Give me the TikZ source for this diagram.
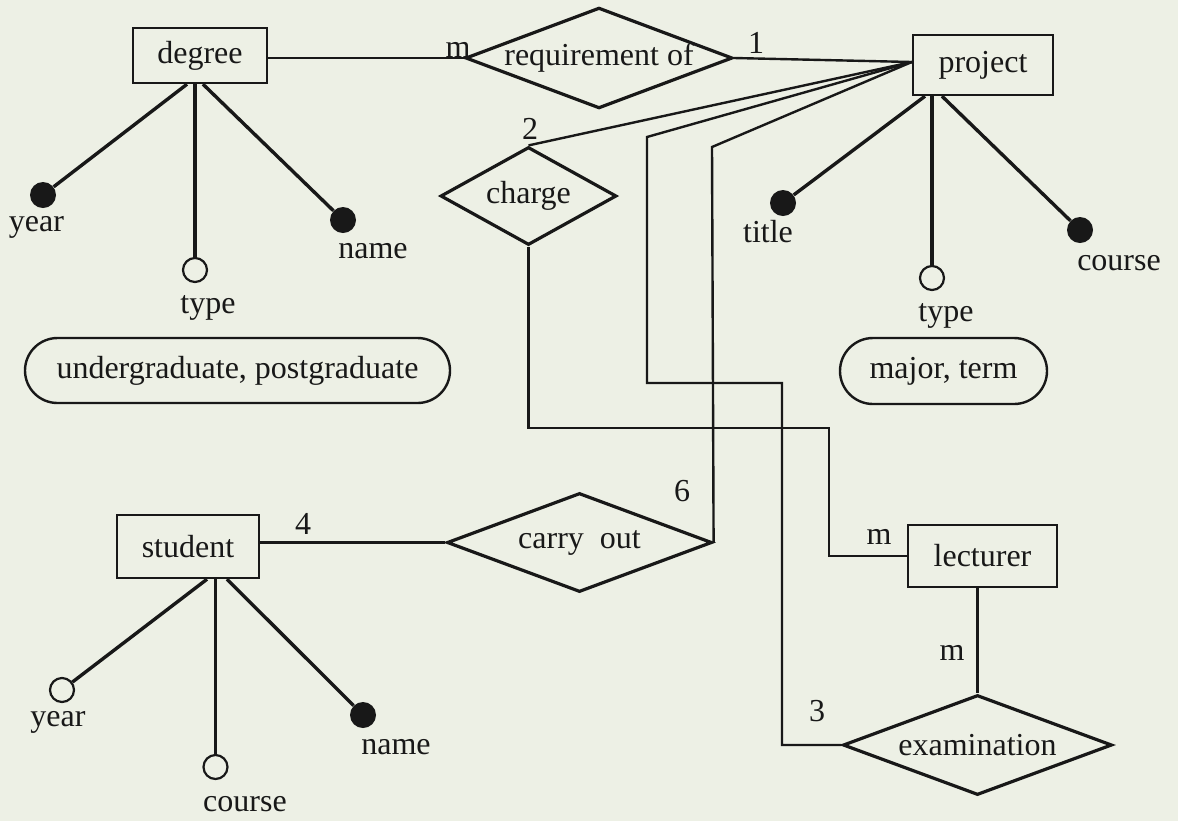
\documentclass[tikz,border=0pt]{standalone}
\usepackage{fontspec}
\setmainfont{Liberation Serif}
\usetikzlibrary{shapes.geometric,shapes.misc}
\definecolor{paper}{RGB}{237,240,229}
\definecolor{ink}{RGB}{24,24,24}

\begin{document}
\begin{tikzpicture}[x=0.5pt,y=-0.5pt,color=ink,
	every node/.style={font=\fontsize{16}{19}\selectfont},
	entity/.style={draw,line width=1.2pt,inner sep=0pt},
	relship/.style={diamond,draw,line width=1.6pt,inner sep=0pt,aspect=2.65},
	keyattr/.style={circle,fill,inner sep=0pt,minimum size=13pt},
	optattr/.style={circle,draw,line width=1.1pt,inner sep=0pt,minimum size=12pt},
	valuebox/.style={rounded rectangle,draw,line width=1.2pt,inner sep=0pt},
	attrline/.style={line width=1.7pt},
	relline/.style={line width=1.2pt},
	card/.style={inner sep=0pt}]
	\fill[paper] (0,0) rectangle (1178,821);
	% entities
	\node[entity,minimum width=67pt,minimum height=27.5pt] (deg) at (200,55.5) {degree};
	\node[entity,minimum width=70pt,minimum height=30pt] (proj) at (983,65) {project};
	\node[entity,minimum width=74.5pt,minimum height=31pt] (lect) at (982.5,556) {lecturer};
	\node[entity,minimum width=71pt,minimum height=31.5pt] (stu) at (188,546.5) {student};
	% relationships
	\node[relship,minimum width=132.5pt,minimum height=50pt] (req) at (599,58) {requirement of};
	\node[relship,aspect=1.8,minimum width=88pt,minimum height=49pt] (chg) at (528.5,196) {charge};
	\node[relship,minimum width=132.5pt,minimum height=49.5pt] (cry) at (579.5,542.5) {carry~~out};
	\node[relship,minimum width=134.5pt,minimum height=50pt] (exam) at (977.5,745) {examination};
	% attributes of degree
	\node[keyattr] (dyear) at (43,195) {};
	\node[optattr] (dtype) at (195,270) {};
	\node[keyattr] (dname) at (343,220) {};
	\draw[attrline] ([xshift=-6.5pt]deg.south) -- (dyear);
	\draw[attrline] ([xshift=-2.5pt]deg.south) -- (dtype);
	\draw[attrline] ([xshift=1.5pt]deg.south) -- (dname);
	\node[card] (t-dyear) at (36.5,227) {year};
	\node[card] (t-dtype) at (208,308) {type};
	\node[card] (t-dname) at (373,251) {name};
	\node[valuebox,minimum width=212.5pt,minimum height=32.5pt] (dvals) at (237.5,370.5) {undergraduate, postgraduate};
	% attributes of project
	\node[keyattr] (ptitle) at (783,203) {};
	\node[optattr] (ptype) at (932,278) {};
	\node[keyattr] (pcourse) at (1080,230) {};
	\draw[attrline] ([xshift=-29pt]proj.south) -- (ptitle);
	\draw[attrline] ([xshift=-25.5pt]proj.south) -- (ptype);
	\draw[attrline] ([xshift=-20.5pt]proj.south) -- (pcourse);
	\node[card] (t-ptitle) at (768,232) {title};
	\node[card] (t-ptype) at (946,316) {type};
	\node[card] (t-pcourse) at (1119,263) {course};
	\node[valuebox,minimum width=103.5pt,minimum height=33pt] (pvals) at (943.5,371) {major, term};
	% attributes of student
	\node[optattr] (syear) at (62,690) {};
	\node[optattr] (scourse) at (215.5,767) {};
	\node[keyattr] (sname) at (363,715) {};
	\draw[attrline] ([xshift=9.5pt]stu.south) -- (syear);
	\draw[attrline] ([xshift=13.75pt]stu.south) -- (scourse);
	\draw[attrline] ([xshift=19.5pt]stu.south) -- (sname);
	\node[card] (t-syear) at (58,722) {year};
	\node[card] (t-scourse) at (245,804) {course};
	\node[card] (t-sname) at (396,747) {name};
	% connectors
	\coordinate (pj) at ([yshift=1.5pt]proj.west);
	\coordinate (b1) at (647,137);
	\coordinate (b2) at (782,383);
	\coordinate (b3) at (712,147);
	\coordinate (b4) at (829,428);
	\draw[relline] (deg.east |- req.west) -- (req.west);
	\draw[relline] (req.east) -- (pj);
	\draw[relline] (pj) -- (chg.north);
	\draw[relline] (pj) -- (b1) |- (b2) |- (exam.west);
	\draw[relline] (pj) -- (b3) -- (cry.east);
	\draw[relline] (chg.south) |- (b4) |- (lect.west);
	\draw[relline] (stu.east |- cry.west) -- (cry.west);
	\draw[relline] (lect.south -| exam.north) -- (exam.north);
	% cardinalities
	\node[card] (c-req-deg) at (458,50) {m};
	\node[card] (c-req-proj) at (756,43) {1};
	\node[card] (c-chg-proj) at (530,129) {2};
	\node[card] (c-cry-stu) at (303,524) {4};
	\node[card] (c-cry-proj) at (682,491) {6};
	\node[card] (c-chg-lect) at (879,537) {m};
	\node[card] (c-exam-lect) at (952,653) {m};
	\node[card] (c-exam-proj) at (817,711) {3};
\end{tikzpicture}
\end{document}
